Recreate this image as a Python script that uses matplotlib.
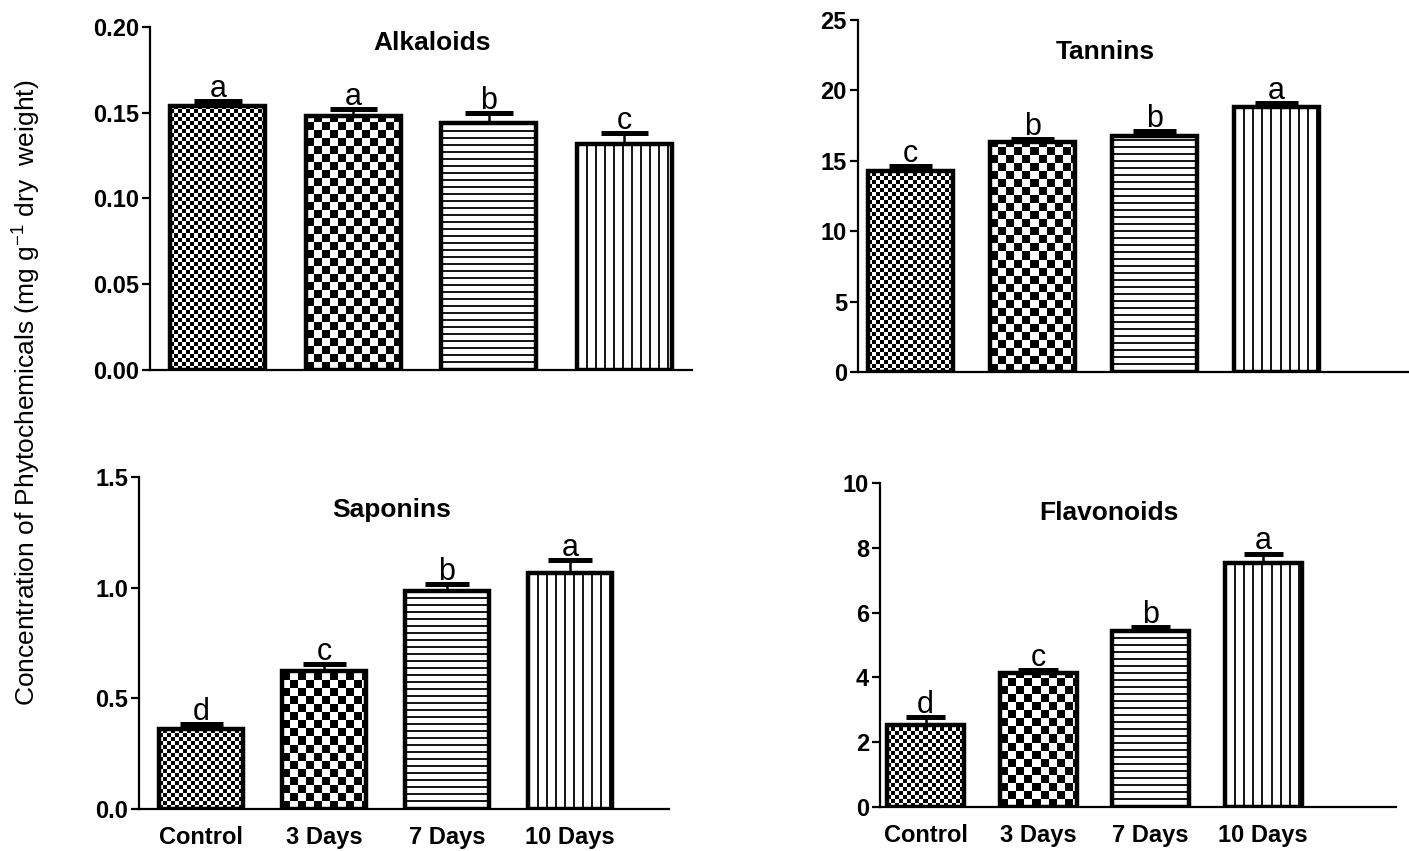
import numpy as np
import matplotlib
matplotlib.use('Agg')
import matplotlib.pyplot as plt
from matplotlib import font_manager

groups = ['Control', '3 Days', '7 Days', '10 Days']

alkaloids = [0.154, 0.148, 0.144, 0.132]
alkaloids_err = [0.003, 0.004, 0.006, 0.006]
alkaloids_sig = ['a', 'a', 'b', 'c']

tannins = [14.25, 16.35, 16.75, 18.8]
tannins_err = [0.4, 0.2, 0.35, 0.3]
tannins_sig = ['c', 'b', 'b', 'a']

saponins = [0.36, 0.625, 0.985, 1.065]
saponins_err = [0.025, 0.03, 0.03, 0.06]
saponins_sig = ['d', 'c', 'b', 'a']

flavonoids = [2.52, 4.15, 5.43, 7.54]
flavonoids_err = [0.26, 0.08, 0.13, 0.28]
flavonoids_sig = ['d', 'c', 'b', 'a']

patterns = ['fine_check', 'coarse_check', 'hlines', 'vlines']

names = {f.name for f in font_manager.fontManager.ttflist}
narrow = 'Liberation Sans Narrow' if 'Liberation Sans Narrow' in names else 'Liberation Sans'
plt.rcParams['font.family'] = ['Liberation Sans', 'DejaVu Sans']
plt.rcParams['mathtext.fontset'] = 'custom'
plt.rcParams['mathtext.rm'] = narrow
plt.rcParams['mathtext.it'] = narrow


def pattern(kind, w, h):
    i, j = np.mgrid[0:h, 0:w]
    if kind == 'fine_check':
        return ((i // 4 + j // 4) % 2).astype(float)
    if kind == 'coarse_check':
        return ((i // 8 + j // 8) % 2).astype(float)
    if kind == 'hlines':
        return np.where(i % 7 < 2, 0.1, 1.0)
    return np.where(j % 9 < 2, 0.1, 1.0)


def panel(ax, vals, errs, sig, title, ylim, yticks, fmt, xlim, width, title_xy, show_x):
    x = np.arange(len(vals))
    ax.set_xlim(xlim)
    ax.set_ylim(ylim)
    for i, v in enumerate(vals):
        x0, x1 = i - width / 2, i + width / 2
        p0 = ax.transData.transform((x0, 0))
        p1 = ax.transData.transform((x1, v))
        w_px = max(int(round(p1[0] - p0[0])), 1)
        h_px = max(int(round(p1[1] - p0[1])), 1)
        ax.imshow(pattern(patterns[i], w_px, h_px), extent=(x0, x1, 0, v), origin='lower',
                  cmap='gray', vmin=0, vmax=1, aspect='auto', interpolation='nearest', zorder=1)
    ax.bar(x, vals, width, fill=False, edgecolor='black', linewidth=3.2, zorder=2)
    tops = np.array(vals) + np.array(errs)
    ax.vlines(x, vals, tops, color='black', linewidth=1.8, zorder=3)
    ax.hlines(tops, x - 0.175, x + 0.175, color='black', linewidth=3.6, zorder=3)
    for i in range(len(vals)):
        ax.annotate(sig[i], (i, tops[i]), xytext=(0, 3), textcoords='offset points',
                    ha='center', va='baseline', fontsize=22, family=narrow)
    ax.text(title_xy[0], title_xy[1], title, ha='center', va='center', fontsize=19, fontweight='bold')
    ax.set_xlim(xlim)
    ax.set_ylim(ylim)
    for s in ['top', 'right']:
        ax.spines[s].set_visible(False)
    for s in ['left', 'bottom']:
        ax.spines[s].set_linewidth(1.6)
    ax.set_yticks(yticks, labels=[fmt.format(t) for t in yticks], fontsize=17, fontweight='bold')
    ax.tick_params(axis='y', direction='out', length=6, width=1.6, pad=2)
    if show_x:
        ax.set_xticks(x, labels=groups, fontsize=17, fontweight='bold')
        ax.tick_params(axis='x', length=0, pad=12)
    else:
        ax.set_xticks([])


fig = plt.figure(figsize=(14.09, 8.51), dpi=100)

ax1 = fig.add_axes([0.1065, 0.5652, 0.3847, 0.4031])
panel(ax1, alkaloids, alkaloids_err, alkaloids_sig, 'Alkaloids', (0, 0.20),
      [0, 0.05, 0.10, 0.15, 0.20], '{:.2f}', (-0.5, 3.5), 0.70, (1.58, 0.1907), False)

ax2 = fig.add_axes([0.609, 0.5629, 0.391, 0.4136])
panel(ax2, tannins, tannins_err, tannins_sig, 'Tannins', (0, 25),
      [0, 5, 10, 15, 20, 25], '{:.0f}', (-0.43, 4.086), 0.70, (1.6, 22.7), False)

ax3 = fig.add_axes([0.0987, 0.0494, 0.3761, 0.3901])
panel(ax3, saponins, saponins_err, saponins_sig, 'Saponins', (0, 1.5),
      [0, 0.5, 1.0, 1.5], '{:.1f}', (-0.504, 3.805), 0.68, (1.55, 1.35), True)

ax4 = fig.add_axes([0.6246, 0.0517, 0.3662, 0.3807])
panel(ax4, flavonoids, flavonoids_err, flavonoids_sig, 'Flavonoids', (0, 10),
      [0, 2, 4, 6, 8, 10], '{:.0f}', (-0.404, 4.18), 0.685, (1.63, 9.06), True)

fig.text(0.019, 0.539, r'Concentration of Phytochemicals (mg g$^{-1}$ dry  weight)',
         rotation=90, ha='center', va='center', fontsize=23 if narrow != 'Liberation Sans' else 19,
         family=narrow)

fig.savefig('out.png', dpi=100)
